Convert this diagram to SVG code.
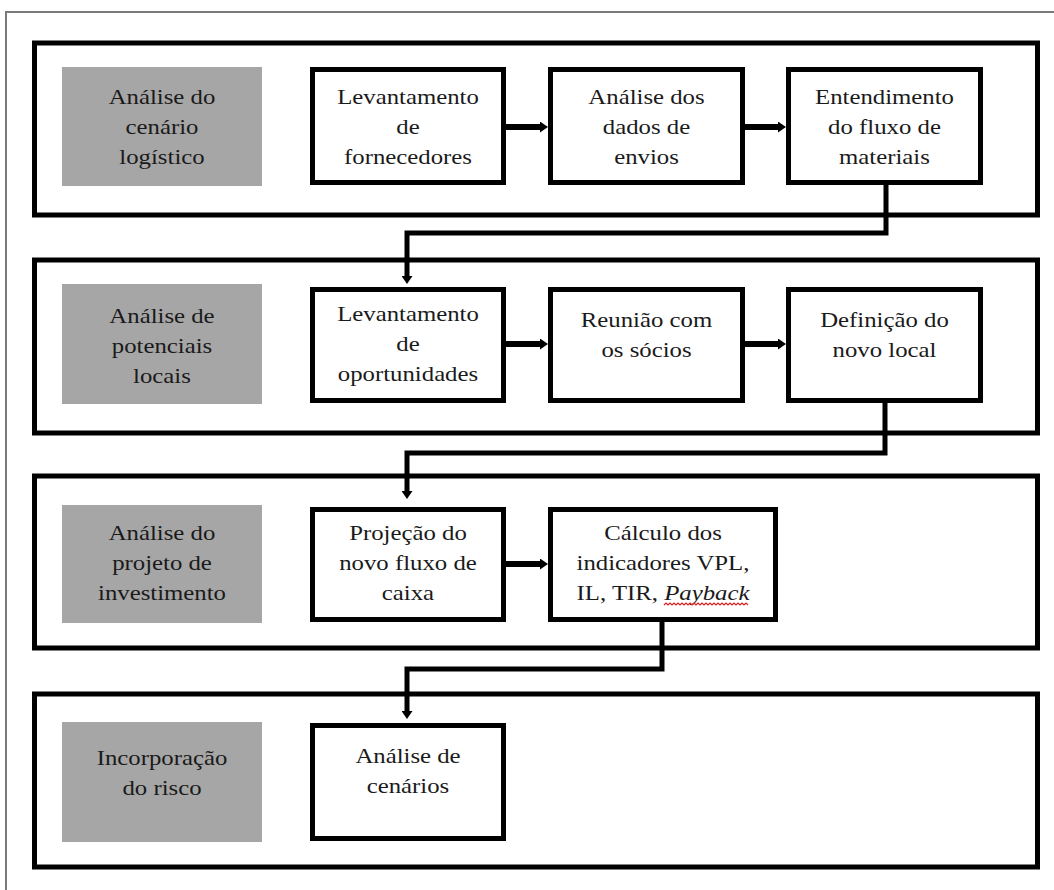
<svg xmlns="http://www.w3.org/2000/svg" width="1054" height="890" viewBox="0 0 1054 890">
<defs>
<style>
.frame{fill:none;stroke:#7a7a7a;stroke-width:2}
.band{fill:#fff;stroke:#000;stroke-width:5}
.box{fill:#fff;stroke:#000;stroke-width:5}
.gray{fill:#a6a6a6;stroke:none}
.t{font-family:"Liberation Serif","Times New Roman",serif;font-size:21px;fill:#1a1a1a;text-anchor:middle}
.conn{fill:none;stroke:#000;stroke-width:5}
.harr{fill:none;stroke:#000;stroke-width:6}
.sq{fill:none;stroke:#e02020;stroke-width:1.2}
</style>
<marker id="ahH" markerUnits="userSpaceOnUse" markerWidth="8" markerHeight="11" refX="0" refY="5.5" orient="auto"><path d="M0,0 L8,5.5 L0,11 z" fill="#000"/></marker>
<marker id="ahV" markerUnits="userSpaceOnUse" markerWidth="8" markerHeight="11" refX="0" refY="5.5" orient="auto"><path d="M0,0 L8,5.5 L0,11 z" fill="#000"/></marker>
</defs>
<rect x="0" y="0" width="1054" height="890" fill="#fff"/>
<rect class="frame" x="6" y="12" width="1070" height="900"/>

<g id="bands">
<rect class="band" x="34.5" y="43" width="1003" height="172"/>
<rect class="band" x="34.5" y="260" width="1003" height="173"/>
<rect class="band" x="34.5" y="476" width="1003" height="172"/>
<rect class="band" x="34.5" y="694" width="1003" height="173"/>
</g>

<g id="connectors">
<path class="conn" d="M886,185 V233 H407 V276" marker-end="url(#ahV)"/>
<path class="conn" d="M885,403 V453 H407 V491" marker-end="url(#ahV)"/>
<path class="conn" d="M662,622 V669 H407 V711" marker-end="url(#ahV)"/>
<path class="harr" d="M506,127 H540" marker-end="url(#ahH)"/>
<path class="harr" d="M745,127 H778" marker-end="url(#ahH)"/>
<path class="harr" d="M506,344 H540" marker-end="url(#ahH)"/>
<path class="harr" d="M745,344 H778" marker-end="url(#ahH)"/>
<path class="harr" d="M506,564 H540" marker-end="url(#ahH)"/>
</g>

<g id="n-cenario-logistico">
<rect class="gray" x="62" y="67" width="200" height="119"/>
<text class="t" transform="scale(1.18,1)"><tspan x="137.29" y="104">Análise do</tspan><tspan x="137.29" y="134">cenário</tspan><tspan x="137.29" y="164">logístico</tspan></text>
</g>
<g id="n-lev-fornecedores">
<rect class="box" x="312.5" y="69.5" width="191" height="113"/>
<text class="t" transform="scale(1.18,1)"><tspan x="345.76" y="104">Levantamento</tspan><tspan x="345.76" y="134">de</tspan><tspan x="345.76" y="164">fornecedores</tspan></text>
</g>
<g id="n-dados-envios">
<rect class="box" x="550.5" y="69.5" width="192" height="113"/>
<text class="t" transform="scale(1.18,1)"><tspan x="547.88" y="104">Análise dos</tspan><tspan x="547.88" y="134">dados de</tspan><tspan x="547.88" y="164">envios</tspan></text>
</g>
<g id="n-fluxo-materiais">
<rect class="box" x="788.5" y="69.5" width="192" height="113"/>
<text class="t" transform="scale(1.18,1)"><tspan x="749.58" y="104">Entendimento</tspan><tspan x="749.58" y="134">do fluxo de</tspan><tspan x="749.58" y="164">materiais</tspan></text>
</g>

<g id="n-potenciais-locais">
<rect class="gray" x="62" y="284" width="200" height="120"/>
<text class="t" transform="scale(1.18,1)"><tspan x="137.29" y="323">Análise de</tspan><tspan x="137.29" y="353">potenciais</tspan><tspan x="137.29" y="383">locais</tspan></text>
</g>
<g id="n-lev-oportunidades">
<rect class="box" x="312.5" y="289.5" width="191" height="111"/>
<text class="t" transform="scale(1.18,1)"><tspan x="345.76" y="321">Levantamento</tspan><tspan x="345.76" y="351">de</tspan><tspan x="345.76" y="381">oportunidades</tspan></text>
</g>
<g id="n-reuniao">
<rect class="box" x="550.5" y="289.5" width="192" height="111"/>
<text class="t" transform="scale(1.18,1)"><tspan x="547.88" y="327">Reunião com</tspan><tspan x="547.88" y="357">os sócios</tspan></text>
</g>
<g id="n-novo-local">
<rect class="box" x="788.5" y="289.5" width="192" height="111"/>
<text class="t" transform="scale(1.18,1)"><tspan x="749.58" y="327">Definição do</tspan><tspan x="749.58" y="357">novo local</tspan></text>
</g>

<g id="n-projeto-investimento">
<rect class="gray" x="62" y="505" width="200" height="118"/>
<text class="t" transform="scale(1.18,1)"><tspan x="137.29" y="540">Análise do</tspan><tspan x="137.29" y="570">projeto de</tspan><tspan x="137.29" y="600">investimento</tspan></text>
</g>
<g id="n-fluxo-caixa">
<rect class="box" x="312.5" y="509.5" width="191" height="110"/>
<text class="t" transform="scale(1.18,1)"><tspan x="345.76" y="540">Projeção do</tspan><tspan x="345.76" y="570">novo fluxo de</tspan><tspan x="345.76" y="600">caixa</tspan></text>
</g>
<g id="n-indicadores">
<rect class="box" x="550.5" y="509.5" width="225" height="110"/>
<text class="t" transform="scale(1.18,1)"><tspan x="561.86" y="540">Cálculo dos</tspan><tspan x="561.86" y="570">indicadores VPL,</tspan><tspan x="561.86" y="600">IL, TIR, <tspan font-style="italic">Payback</tspan></tspan></text>
<path class="sq" d="M664,605 l2,-2 l2,2 l2,-2 l2,2 l2,-2 l2,2 l2,-2 l2,2 l2,-2 l2,2 l2,-2 l2,2 l2,-2 l2,2 l2,-2 l2,2 l2,-2 l2,2 l2,-2 l2,2 l2,-2 l2,2 l2,-2 l2,2 l2,-2 l2,2 l2,-2 l2,2 l2,-2 l2,2 l2,-2 l2,2 l2,-2 l2,2 l2,-2 l2,2 l2,-2 l2,2 l2,-2 l2,2 l2,-2 l2,2"/>
</g>

<g id="n-incorporacao-risco">
<rect class="gray" x="62" y="722" width="200" height="120"/>
<text class="t" transform="scale(1.18,1)"><tspan x="137.29" y="765">Incorporação</tspan><tspan x="137.29" y="795">do risco</tspan></text>
</g>
<g id="n-cenarios">
<rect class="box" x="312.5" y="725.5" width="191" height="113"/>
<text class="t" transform="scale(1.18,1)"><tspan x="345.76" y="763">Análise de</tspan><tspan x="345.76" y="793">cenários</tspan></text>
</g>
</svg>
